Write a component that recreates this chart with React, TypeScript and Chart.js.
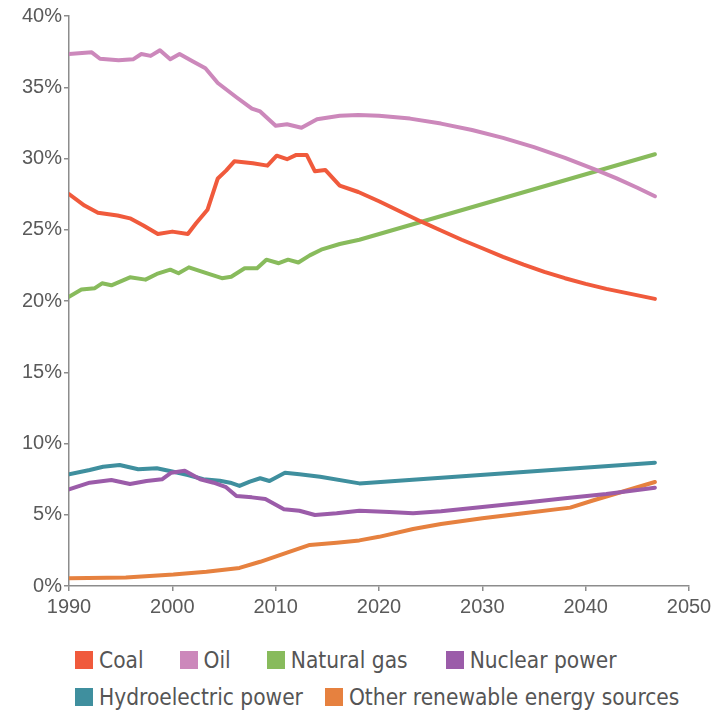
import React, { useEffect, useRef } from "react";
import { Chart, registerables } from "chart.js";

Chart.register(...registerables);

const seriesNames = ["Coal", "Oil", "Natural gas", "Nuclear power", "Hydroelectric power", "Other renewable energy sources"];
const seriesColors = ["#f05a3c", "#cc88bb", "#88bb5c", "#9b5ca9", "#3f8f9e", "#e6813f"];

const coalYears = [1990, 1991.5, 1992.8, 1994.7, 1995.9, 1997.2, 1998.6, 2000, 2001.5, 2002.3, 2003.4, 2004.4, 2005.2, 2006, 2007.8, 2009.2, 2010.1, 2011.1, 2012, 2013, 2013.8, 2014.8, 2016.2, 2018, 2020, 2022, 2024, 2026, 2028, 2030, 2032, 2034, 2036, 2038, 2040, 2042, 2044, 2046.7];
const coalValues = [27.5, 26.7, 26.2, 26.0, 25.8, 25.3, 24.7, 24.87, 24.7, 25.45, 26.4, 28.6, 29.15, 29.8, 29.66, 29.5, 30.2, 29.95, 30.25, 30.25, 29.1, 29.2, 28.1, 27.65, 27.0, 26.3, 25.6, 24.95, 24.3, 23.7, 23.1, 22.55, 22.05, 21.6, 21.2, 20.85, 20.55, 20.15];

const oilYears = [1990, 1992.2, 1993, 1994.8, 1996.2, 1997, 1997.9, 1998.8, 1999.8, 2000.7, 2002, 2003.2, 2004.4, 2006.2, 2007.7, 2008.5, 2010, 2011.1, 2012.5, 2014, 2016.2, 2018, 2020, 2023, 2026, 2029, 2032, 2035, 2038, 2041, 2043, 2045, 2046.7];
const oilValues = [37.33, 37.45, 37.0, 36.9, 36.96, 37.33, 37.2, 37.6, 36.96, 37.33, 36.8, 36.33, 35.3, 34.3, 33.5, 33.3, 32.3, 32.4, 32.16, 32.75, 33.0, 33.05, 33.0, 32.8, 32.45, 32.0, 31.45, 30.8, 30.05, 29.2, 28.6, 27.95, 27.35];

const gasYears = [1990, 1991.2, 1992.5, 1993.2, 1994.1, 1995.9, 1997.4, 1998.5, 1999.8, 2000.6, 2001.6, 2003.3, 2004.8, 2005.7, 2007, 2008.2, 2009.1, 2010.3, 2011.2, 2012.2, 2013.3, 2014.4, 2016.2, 2018.1, 2046.7];
const gasValues = [20.3, 20.8, 20.9, 21.24, 21.1, 21.66, 21.5, 21.9, 22.2, 21.95, 22.36, 21.95, 21.6, 21.7, 22.3, 22.3, 22.9, 22.65, 22.9, 22.7, 23.2, 23.6, 24.0, 24.3, 30.3];

const nuclearYears = [1990, 1992, 1994.1, 1995.9, 1997.5, 1999, 1999.9, 2001.2, 2002.7, 2004, 2005.2, 2006.2, 2007.7, 2009, 2010.8, 2012.3, 2013.8, 2015.9, 2018.1, 2021, 2023.3, 2026, 2030, 2034, 2038, 2042, 2046.7];
const nuclearValues = [6.78, 7.25, 7.44, 7.16, 7.37, 7.49, 7.95, 8.09, 7.49, 7.25, 6.93, 6.32, 6.22, 6.1, 5.38, 5.28, 4.98, 5.1, 5.28, 5.2, 5.1, 5.25, 5.55, 5.85, 6.15, 6.45, 6.9];

const hydroYears = [1990, 1992, 1993.3, 1994.9, 1996.7, 1998.5, 2000.1, 2001.5, 2003, 2004.6, 2005.6, 2006.5, 2007.5, 2008.5, 2009.4, 2010.9, 2012.3, 2014.3, 2018.1, 2046.7];
const hydroValues = [7.84, 8.14, 8.37, 8.49, 8.19, 8.26, 8.02, 7.79, 7.49, 7.39, 7.25, 7.02, 7.32, 7.56, 7.37, 7.95, 7.84, 7.67, 7.2, 8.65];

const otherYears = [1990, 1995.5, 2000.1, 2003.3, 2006.5, 2008.5, 2011.1, 2013.3, 2015.9, 2018.1, 2020, 2023.3, 2026, 2030, 2034, 2038.5, 2040.7, 2046.7];
const otherValues = [0.55, 0.6, 0.8, 1.0, 1.27, 1.7, 2.34, 2.88, 3.04, 3.2, 3.45, 4.0, 4.35, 4.75, 5.1, 5.5, 6.0, 7.3];

const yearSeries = [coalYears, oilYears, gasYears, nuclearYears, hydroYears, otherYears];
const valueSeries = [coalValues, oilValues, gasValues, nuclearValues, hydroValues, otherValues];

const xMin = 1990;
const xMax = 2050;
const xStep = 10;
const yMin = 0;
const yMax = 40;
const yStep = 5;

const axisColor = "#8c8c8c";
const tickColor = "#5a5a5a";
const legendGaps = [36, 36, 38, 0, 22, 0];

export default function App() {
  const ref = useRef<HTMLCanvasElement | null>(null);

  useEffect(() => {
    if (!ref.current) return;
    const datasets = seriesNames.map((name, i) => ({
      label: name,
      data: yearSeries[i].map((x, j) => ({ x, y: valueSeries[i][j] })),
      borderColor: seriesColors[i],
      backgroundColor: seriesColors[i],
      borderWidth: 4,
      pointRadius: 0,
      tension: 0,
      borderJoinStyle: "round" as const,
      borderCapStyle: "round" as const,
      fill: false,
    }));
    const chart = new Chart(ref.current, {
      type: "line",
      data: { datasets },
      options: {
        animation: false,
        responsive: false,
        devicePixelRatio: 1,
        layout: { padding: { top: 16, right: 32, left: 0, bottom: 0 } },
        plugins: { legend: { display: false }, tooltip: { enabled: false } },
        scales: {
          x: {
            type: "linear",
            min: xMin,
            max: xMax,
            afterFit: (s: any) => {
              s.height = 40;
            },
            ticks: {
              stepSize: xStep,
              color: tickColor,
              font: { family: "'Liberation Sans', Arial, sans-serif", size: 20 },
              padding: 4,
              callback: (v: any) => String(v),
            },
            grid: { display: true, drawOnChartArea: false, drawTicks: true, tickLength: 5, color: axisColor, lineWidth: 1.5 },
            border: { display: true, color: axisColor, width: 1.5 },
          },
          y: {
            min: yMin,
            max: yMax,
            afterFit: (s: any) => {
              s.width = 69;
            },
            ticks: {
              stepSize: yStep,
              color: tickColor,
              font: { family: "'Liberation Sans', Arial, sans-serif", size: 20 },
              padding: 2,
              callback: (v: any) => v + "%",
            },
            grid: { display: true, drawOnChartArea: false, drawTicks: true, tickLength: 5, color: axisColor, lineWidth: 1.5 },
            border: { display: true, color: axisColor, width: 1.5 },
          },
        },
      },
    });
    return () => chart.destroy();
  }, []);

  return (
    <div style={{ position: "absolute", left: 0, top: 0, width: 721, height: 710, background: "#fff" }}>
      <canvas ref={ref} width={721} height={626} style={{ display: "block" }} />
      <div
        style={{
          position: "absolute",
          left: 75,
          top: 641,
          width: 646,
          display: "flex",
          flexWrap: "wrap",
          fontFamily: "'DejaVu Sans Condensed', 'Liberation Sans Narrow', 'Liberation Sans', sans-serif",
          fontSize: 22.5,
          color: "#555",
        }}
      >
        {seriesNames.map((name, i) => (
          <div
            key={name}
            style={{ display: "flex", alignItems: "center", height: 37, whiteSpace: "nowrap", marginRight: legendGaps[i] }}
          >
            <span style={{ display: "inline-block", width: 18, height: 18, background: seriesColors[i], marginRight: 6 }} />
            <span>{name}</span>
          </div>
        ))}
      </div>
    </div>
  );
}
